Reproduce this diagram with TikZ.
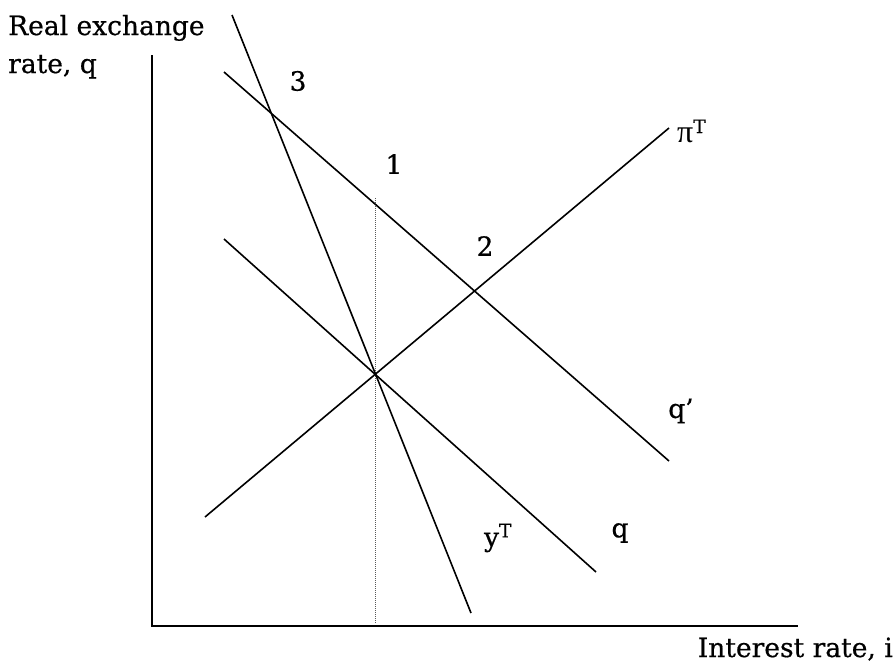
\documentclass[tikz,border=0pt]{standalone}
\usepackage{fontspec}
\setmainfont{DejaVu Serif}[BoldFont={DejaVu Serif},BoldFeatures={FakeBold=0.6}]
\newfontfamily\greekfont{Liberation Serif}
\begin{document}
\begin{tikzpicture}[x=1pt,y=-1pt,
  curve/.style={line width=1.6pt,black},
  axis/.style={line width=1.8pt,black},
  guide/.style={line width=1pt,densely dotted,gray!70!black},
  lbl/.style={font=\fontsize{26.5}{30}\selectfont\bfseries,inner sep=0pt}]
\useasboundingbox (0,0) rectangle (896,670);
% axes
\coordinate (ytop) at (152,55);
\coordinate (orig) at (152,626);
\coordinate (xend) at (798,626);
\draw[axis] (ytop) -- (orig) -- (xend);
% dotted guide
\coordinate (dtop) at (375,198);
\coordinate (dbot) at (375,623);
\draw[guide] (dtop) -- (dbot);
% curves
\coordinate (yT1) at (232,15);
\coordinate (yT2) at (471,613);
\draw[curve] (yT1) -- (yT2);
\coordinate (qp1) at (224,72);
\coordinate (qp2) at (669,461);
\draw[curve] (qp1) -- (qp2);
\coordinate (q1) at (224,239);
\coordinate (q2) at (596,572);
\draw[curve] (q1) -- (q2);
\coordinate (pi1) at (205,517);
\coordinate (pi2) at (669,128);
\draw[curve] (pi1) -- (pi2);
% labels
\node[lbl,anchor=base west] (ylab1) at (8,35) {Real exchange};
\node[lbl,anchor=base west] (ylab2) at (8,73) {rate, q};
\node[lbl] (n3) at (298,81) {3};
\node[lbl] (n1) at (394,164) {1};
\node[lbl] (n2) at (485,246) {2};
\node[lbl,anchor=west] (piT) at (677,131) {{\greekfont\fontsize{32}{32}\selectfont\mdseries π}\textsuperscript{T}};
\node[lbl] (qprime) at (681,411) {q’};
\node[lbl] (yT) at (498,538) {y\textsuperscript{T}};
\node[lbl] (qlab) at (620,533) {q};
\node[lbl,anchor=base east] (xlab) at (893,657) {Interest rate, i};
\end{tikzpicture}
\end{document}
